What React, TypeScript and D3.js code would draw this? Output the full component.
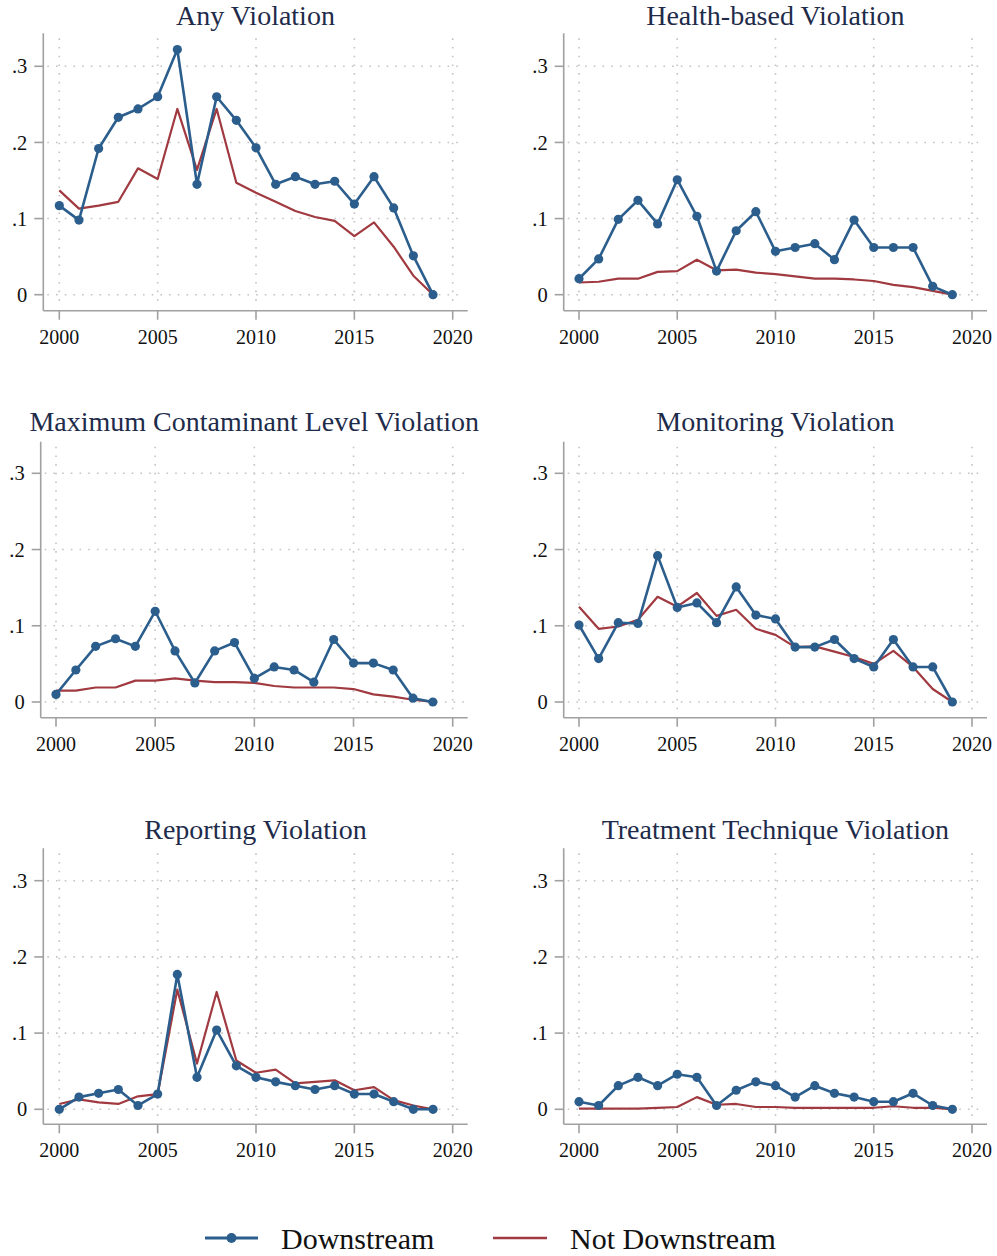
import React from "react";
import * as d3 from "d3";

const years = [2000, 2001, 2002, 2003, 2004, 2005, 2006, 2007, 2008, 2009, 2010, 2011, 2012, 2013, 2014, 2015, 2016, 2017, 2018, 2019];
const xTicks = [2000, 2005, 2010, 2015, 2020];
const yTicks = [0, 0.1, 0.2, 0.3];
const yTickLabels = ["0", ".1", ".2", ".3"];

const panelTitles = [
  "Any Violation",
  "Health-based Violation",
  "Maximum Contaminant Level Violation",
  "Monitoring Violation",
  "Reporting Violation",
  "Treatment Technique Violation",
];

const anyDown = [0.117, 0.098, 0.192, 0.233, 0.244, 0.26, 0.322, 0.145, 0.26, 0.229, 0.193, 0.145, 0.155, 0.145, 0.149, 0.119, 0.155, 0.114, 0.051, 0];
const anyNot = [0.137, 0.113, 0.117, 0.122, 0.166, 0.152, 0.244, 0.164, 0.244, 0.147, 0.134, 0.122, 0.11, 0.102, 0.097, 0.077, 0.095, 0.063, 0.025, 0];

const healthDown = [0.021, 0.047, 0.099, 0.124, 0.093, 0.151, 0.103, 0.031, 0.084, 0.109, 0.057, 0.062, 0.067, 0.046, 0.098, 0.062, 0.062, 0.062, 0.011, 0];
const healthNot = [0.016, 0.017, 0.021, 0.021, 0.03, 0.031, 0.046, 0.032, 0.033, 0.029, 0.027, 0.024, 0.021, 0.021, 0.02, 0.018, 0.013, 0.01, 0.005, 0];

const mclDown = [0.01, 0.042, 0.073, 0.083, 0.073, 0.119, 0.067, 0.025, 0.067, 0.078, 0.031, 0.046, 0.042, 0.026, 0.082, 0.051, 0.051, 0.042, 0.005, 0];
const mclNot = [0.015, 0.015, 0.019, 0.019, 0.028, 0.028, 0.031, 0.028, 0.026, 0.026, 0.025, 0.021, 0.019, 0.019, 0.019, 0.017, 0.01, 0.007, 0.003, 0];

const monDown = [0.101, 0.057, 0.104, 0.103, 0.192, 0.124, 0.13, 0.104, 0.151, 0.114, 0.109, 0.072, 0.072, 0.082, 0.057, 0.046, 0.082, 0.046, 0.046, 0];
const monNot = [0.125, 0.096, 0.099, 0.108, 0.138, 0.125, 0.143, 0.113, 0.121, 0.096, 0.088, 0.072, 0.073, 0.066, 0.059, 0.05, 0.067, 0.046, 0.017, 0];

const repDown = [0, 0.016, 0.021, 0.026, 0.005, 0.02, 0.177, 0.042, 0.104, 0.057, 0.042, 0.036, 0.031, 0.026, 0.031, 0.02, 0.02, 0.01, 0, 0];
const repNot = [0.007, 0.013, 0.009, 0.007, 0.017, 0.02, 0.157, 0.06, 0.154, 0.064, 0.048, 0.052, 0.034, 0.036, 0.038, 0.025, 0.029, 0.012, 0.005, 0];

const ttDown = [0.01, 0.005, 0.031, 0.042, 0.031, 0.046, 0.042, 0.005, 0.025, 0.036, 0.031, 0.016, 0.031, 0.021, 0.016, 0.01, 0.01, 0.021, 0.005, 0];
const ttNot = [0.001, 0.001, 0.001, 0.001, 0.002, 0.003, 0.016, 0.006, 0.007, 0.003, 0.003, 0.002, 0.002, 0.002, 0.002, 0.002, 0.004, 0.002, 0.002, 0];

const downSeries = [anyDown, healthDown, mclDown, monDown, repDown, ttDown];
const notSeries = [anyNot, healthNot, mclNot, monNot, repNot, ttNot];

const legendLabels = ["Downstream", "Not Downstream"];

const BLUE = "#2b5e8c";
const RED = "#a03a40";
const AXIS = "#a0a0a0";
const GRID = "#c4c4c4";
const TITLE = "#1e2b4a";
const FONT = "'Liberation Serif', 'Times New Roman', serif";

type Geo = { yAxisX: number; x0: number; x1: number; axisEnd: number; zeroY: number; y3: number; axisY: number; yTop: number; titleY: number };

const rowZero = [294.7, 702, 1109.3];
const rowY3 = [66.3, 473.3, 880.7];
const rowAxis = [310.7, 717.7, 1124.3];
const rowTop = [33.3, 441.7, 848.3];
const rowTitle = [24.5, 431, 838.5];

function geoFor(i: number): Geo {
  const row = Math.floor(i / 2);
  const col = i % 2;
  let yAxisX = col === 0 ? 43.3 : 563.7;
  let x0 = col === 0 ? 59.3 : 579;
  const x1 = col === 0 ? 452.7 : 972;
  const axisEnd = col === 0 ? 467.7 : 987;
  if (i === 2) {
    yAxisX = 40.7;
    x0 = 56;
  }
  return { yAxisX, x0, x1, axisEnd, zeroY: rowZero[row], y3: rowY3[row], axisY: rowAxis[row], yTop: rowTop[row], titleY: rowTitle[row] };
}

function Panel({ i }: { i: number }) {
  const g = geoFor(i);
  const x = d3.scaleLinear().domain([2000, 2020]).range([g.x0, g.x1]);
  const y = d3.scaleLinear().domain([0, 0.3]).range([g.zeroY, g.y3]);
  const line = d3.line<number>().x((_, k) => x(years[k])).y((v) => y(v));
  const down = downSeries[i];
  const not = notSeries[i];
  const pl = g.yAxisX + 4;
  const pr = g.axisEnd - 3;
  const pt = g.yTop + 5;
  const pb = g.axisY - 5;
  return (
    <g>
      {yTicks.map((t) => (
        <line key={"hg" + t} x1={pl} x2={pr} y1={y(t)} y2={y(t)} stroke={GRID} strokeWidth={1.6} strokeDasharray="1.6 7.1" />
      ))}
      {xTicks.map((t) => (
        <line key={"vg" + t} x1={x(t)} x2={x(t)} y1={pt} y2={pb} stroke={GRID} strokeWidth={1.6} strokeDasharray="1.6 7.1" />
      ))}
      <line x1={g.yAxisX} x2={g.yAxisX} y1={g.yTop} y2={g.axisY} stroke={AXIS} strokeWidth={1.6} />
      <line x1={g.yAxisX} x2={g.axisEnd} y1={g.axisY} y2={g.axisY} stroke={AXIS} strokeWidth={1.6} />
      {yTicks.map((t, k) => (
        <g key={"yt" + t}>
          <line x1={g.yAxisX - 9} x2={g.yAxisX} y1={y(t)} y2={y(t)} stroke={AXIS} strokeWidth={1.6} />
          <text x={g.yAxisX - 16} y={y(t)} dy="0.35em" textAnchor="end" fontFamily={FONT} fontSize={20.5} fill="#111">
            {yTickLabels[k]}
          </text>
        </g>
      ))}
      {xTicks.map((t) => (
        <g key={"xt" + t}>
          <line x1={x(t)} x2={x(t)} y1={g.axisY} y2={g.axisY + 9} stroke={AXIS} strokeWidth={1.6} />
          <text x={x(t)} y={g.axisY + 33} textAnchor="middle" fontFamily={FONT} fontSize={20} fill="#111">
            {t}
          </text>
        </g>
      ))}
      <path d={line(not) || ""} fill="none" stroke={RED} strokeWidth={2.2} strokeLinejoin="round" />
      <path d={line(down) || ""} fill="none" stroke={BLUE} strokeWidth={2.6} strokeLinejoin="round" />
      {down.map((v, k) => (
        <circle key={"c" + k} cx={x(years[k])} cy={y(v)} r={4.6} fill={BLUE} />
      ))}
      <text x={(g.yAxisX + g.axisEnd) / 2} y={g.titleY} textAnchor="middle" fontFamily={FONT} fontSize={28} fill={TITLE}>
        {panelTitles[i]}
      </text>
    </g>
  );
}

export default function App() {
  const ly = 1238;
  return (
    <svg width={997} height={1256} style={{ position: "absolute", left: 0, top: 0, background: "#fff" }}>
      <rect width={997} height={1256} fill="#fff" />
      {panelTitles.map((_, i) => (
        <Panel key={i} i={i} />
      ))}
      <g>
        <line x1={205} x2={258} y1={ly} y2={ly} stroke={BLUE} strokeWidth={2.8} />
        <circle cx={231.5} cy={ly} r={5} fill={BLUE} />
        <text x={281} y={1249} fontFamily={FONT} fontSize={30} fill="#111">{legendLabels[0]}</text>
        <line x1={493} x2={547} y1={ly} y2={ly} stroke={RED} strokeWidth={2.6} />
        <text x={570} y={1249} fontFamily={FONT} fontSize={30} fill="#111">{legendLabels[1]}</text>
      </g>
    </svg>
  );
}
